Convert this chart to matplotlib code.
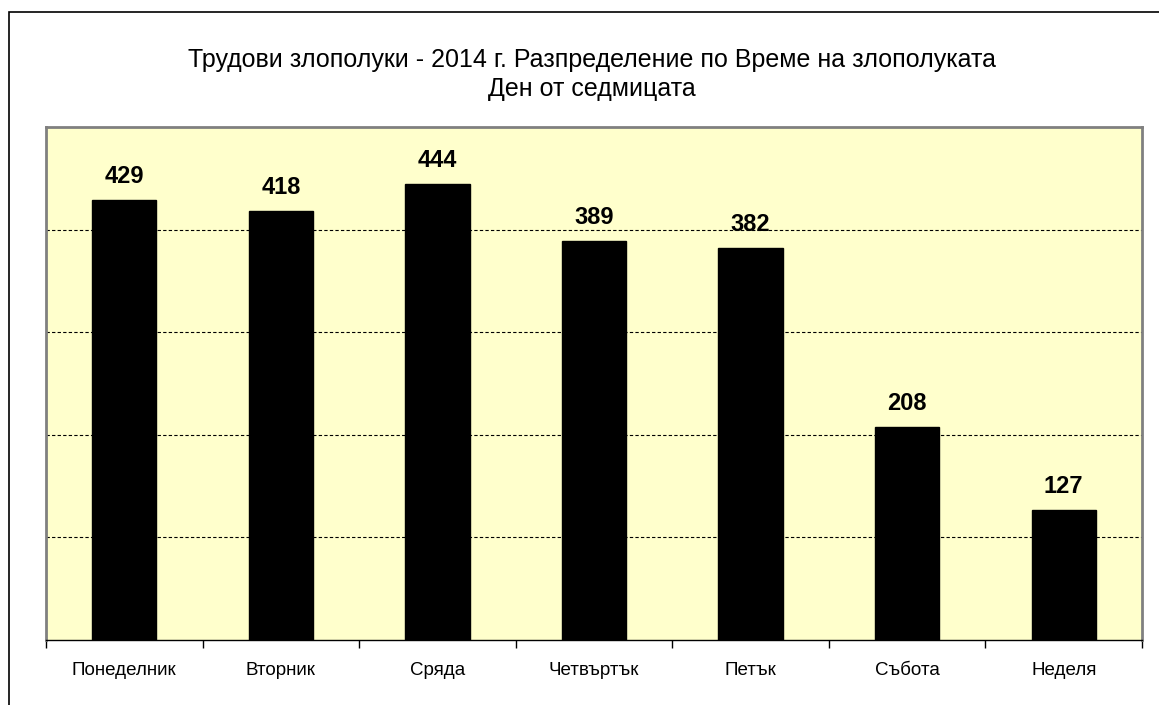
import matplotlib
matplotlib.use("Agg")
import matplotlib.pyplot as plt
from matplotlib.patches import Rectangle
from matplotlib import font_manager as fm
import numpy as np
import os

days = ["Понеделник", "Вторник", "Сряда", "Четвъртък", "Петък", "Събота", "Неделя"]
counts = [429, 418, 444, 389, 382, 208, 127]
title_lines = ["Трудови злополуки - 2014 г. Разпределение по Време на злополуката",
               "Ден от седмицата"]


def find_font(base):
    for f in fm.fontManager.ttflist:
        if os.path.basename(f.fname) == base:
            return f.fname
    return None


reg_path = find_font("LiberationSans-Regular.ttf")
bold_path = find_font("LiberationSans-Bold.ttf")


def fp(size, bold=False):
    path = bold_path if bold else reg_path
    if path:
        return fm.FontProperties(fname=path, size=size)
    return fm.FontProperties(family=["Liberation Sans", "DejaVu Sans"], size=size,
                             weight="bold" if bold else "normal")


W, H = 1159, 705
fig = plt.figure(figsize=(W / 100, H / 100), dpi=100)
fig.patch.set_facecolor("white")

# outer chart frame (extends beyond the picture at right and bottom)
fig.patches.append(Rectangle((8.5 / W, -0.1), 1.2, 1 - 12.5 / H + 0.1, transform=fig.transFigure,
                             fill=False, edgecolor="black", linewidth=1.2))

left, right, top, bottom = 46, 1142, 127, 640
ax = fig.add_axes([left / W, 1 - bottom / H, (right - left) / W, (bottom - top) / H])
ax.set_facecolor("#FFFFCC")

x = np.arange(len(days))
ax.bar(x, counts, width=0.41, color="black", edgecolor="black", zorder=3)
for xi, v in zip(x, counts):
    ax.annotate(str(v), (xi, v), xytext=(0, 17), textcoords="offset pixels",
                ha="center", va="baseline", fontproperties=fp(17, True), zorder=4)

ax.set_xlim(-0.5, len(days) - 0.5)
ax.set_ylim(0, 500)
ax.set_yticks([100, 200, 300, 400])
ax.yaxis.grid(True, color="black", linestyle=(0, (3, 2)), linewidth=0.8)
ax.tick_params(axis="y", left=False, labelleft=False)

ax.set_xticks(x)
ax.set_xticklabels(days, fontproperties=fp(13.5))
ax.set_xticks(np.arange(-0.5, len(days)), minor=True)
ax.tick_params(axis="x", which="major", length=0, pad=16)
ax.tick_params(axis="x", which="minor", length=6, width=1, color="black")

for s in ["left", "top", "right"]:
    ax.spines[s].set_color("#808080")
    ax.spines[s].set_linewidth(2)
ax.spines["bottom"].set_color("black")
ax.spines["bottom"].set_linewidth(1)
ax.set_axisbelow(True)

fig.text(591.5 / W, 1 - 67 / H, title_lines[0], ha="center", va="baseline", fontproperties=fp(18))
fig.text(591.5 / W, 1 - 96 / H, title_lines[1], ha="center", va="baseline", fontproperties=fp(18))

fig.savefig("out.png", dpi=100)
